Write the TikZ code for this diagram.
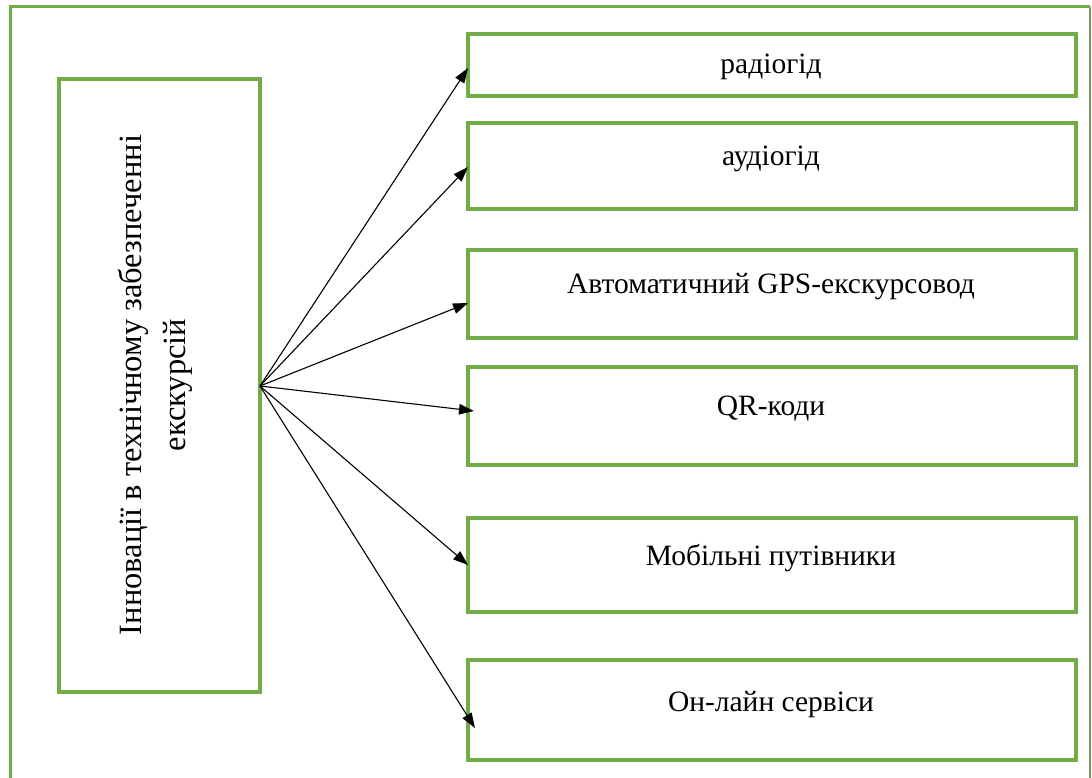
\documentclass[tikz,border=0pt]{standalone}
\usepackage{fontspec}
\setmainfont{Liberation Serif}
\usetikzlibrary{arrows.meta}
\definecolor{grn}{HTML}{70AD47}
\begin{document}
\begin{tikzpicture}[x=1pt,y=-1pt,
  box/.style={draw=grn, line width=3.2pt, inner sep=0pt, outer sep=0pt, anchor=north west, minimum width=608pt},
  lbl/.style={anchor=base, inner sep=0pt, font=\fontsize{29.5}{36}\selectfont},
  arr/.style={-{Triangle[length=15pt,width=10.5pt]}, line width=1.1pt, black}
]
\useasboundingbox (0,0) rectangle (1092,778);
% outer frame (open at the bottom)
\draw[grn, line width=3pt] (10,778) -- (10,7) -- (1090,7);
\draw[grn!50!gray, line width=1.2pt] (1090,7) -- (1090,778);

% left box
\node[box, minimum width=201pt, minimum height=613pt] (main) at (59,79) {};
\node[rotate=90, align=center, inner sep=0pt, font=\fontsize{32.5}{44}\selectfont] (maintxt) at (155,385)
  {Інновації в технічному забезпеченні\\екскурсій};

% right boxes
\node[box, minimum height=62pt]  (b1) at (468,34)  {};
\node[box, minimum height=86pt]  (b2) at (468,123) {};
\node[box, minimum height=88pt]  (b3) at (468,250) {};
\node[box, minimum height=98pt]  (b4) at (468,367) {};
\node[box, minimum height=94pt]  (b5) at (468,518) {};
\node[box, minimum height=100pt] (b6) at (468,660) {};

\node[lbl] (l1) at (771,74)  {радіогід};
\node[lbl] (l2) at (771,166) {аудіогід};
\node[lbl] (l3) at (771,293) {Автоматичний GPS-екскурсовод};
\node[lbl] (l4) at (771,415) {QR-коди};
\node[lbl] (l5) at (771,565) {Мобільні путівники};
\node[lbl] (l6) at (771,711) {Он-лайн сервіси};

% connectors
\coordinate (src) at (260,386);
\coordinate (t1) at (468,68);
\coordinate (t2) at (468,167);
\coordinate (t3) at (468,303);
\coordinate (t4) at (474,411);
\coordinate (t5) at (468,565);
\coordinate (t6) at (475,728);
\foreach \t in {t1,t2,t3,t4,t5,t6}
  \draw[arr] (src) -- (\t);
\end{tikzpicture}
\end{document}
